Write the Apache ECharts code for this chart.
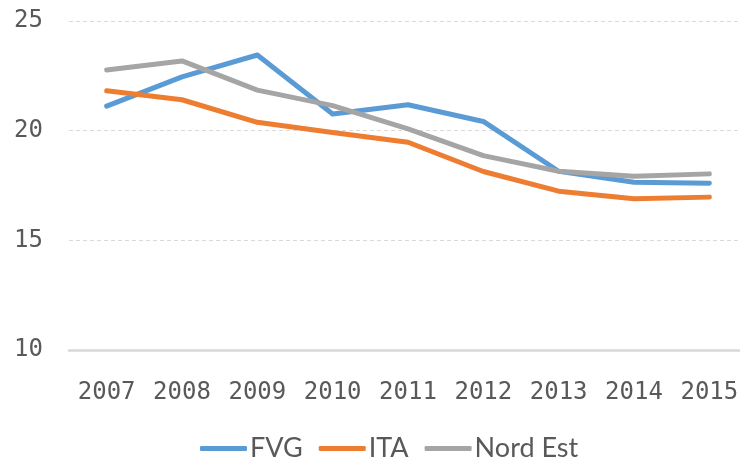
<!DOCTYPE html>
<html>
<head>
<meta charset="utf-8">
<script src="https://cdn.jsdelivr.net/npm/echarts@6/dist/echarts.min.js"></script>
<style>
  html, body { margin: 0; padding: 0; background: #fff; }
  #main { width: 740px; height: 461px; }
</style>
</head>
<body>
<div id="main"></div>
<script>
// dati
var years = ['2007', '2008', '2009', '2010', '2011', '2012', '2013', '2014', '2015'];
var fvg = [21.12, 22.45, 23.45, 20.76, 21.18, 20.42, 18.15, 17.65, 17.6];
var ita = [21.82, 21.41, 20.38, 19.92, 19.47, 18.14, 17.24, 16.9, 16.97];
var nordEst = [22.77, 23.18, 21.85, 21.14, 20.08, 18.86, 18.15, 17.92, 18.03];
var seriesNames = ['FVG', 'ITA', 'Nord Est'];
var colors = ['#5B9BD5', '#ED7D31', '#A5A5A5'];

var myChart = echarts.init(document.getElementById('main'));

function lineSeries(name, data, color) {
    return {
        name: name,
        type: 'line',
        data: data,
        showSymbol: false,
        symbol: 'none',
        color: color,
        lineStyle: { width: 5, color: color, cap: 'round', join: 'round' },
        animation: false
    };
}

var option = {
    animation: false,
    legend: {
        data: seriesNames,
        left: 200,
        top: 435,
        padding: 0,
        icon: 'roundRect',
        itemWidth: 47,
        itemHeight: 5,
        itemGap: 16,
        textStyle: {
            fontFamily: 'Lato',
            fontSize: 27,
            color: '#595959',
            padding: [0, 0, 0, -2]
        }
    },
    grid: {
        left: 69,
        width: 678,
        top: 21,
        bottom: 111,
        outerBoundsMode: 'none'
    },
    xAxis: {
        type: 'category',
        data: years,
        boundaryGap: true,
        axisLine: { show: true, lineStyle: { color: '#D9D9D9', width: 2.5 } },
        axisTick: { show: false },
        axisLabel: {
            interval: 0,
            margin: 31,
            fontFamily: 'DejaVu Sans Mono',
            fontSize: 24,
            color: '#595959'
        }
    },
    yAxis: {
        type: 'value',
        min: 10,
        max: 25,
        interval: 5,
        axisLine: { show: false },
        axisTick: { show: false },
        splitLine: { lineStyle: { color: '#D9D9D9', type: [4, 3], width: 1 } },
        axisLabel: {
            margin: 26,
            fontFamily: 'DejaVu Sans Mono',
            fontSize: 24,
            color: '#595959'
        }
    },
    series: [
        lineSeries(seriesNames[0], fvg, colors[0]),
        lineSeries(seriesNames[1], ita, colors[1]),
        lineSeries(seriesNames[2], nordEst, colors[2])
    ]
};

myChart.setOption(option);
</script>
</body>
</html>
